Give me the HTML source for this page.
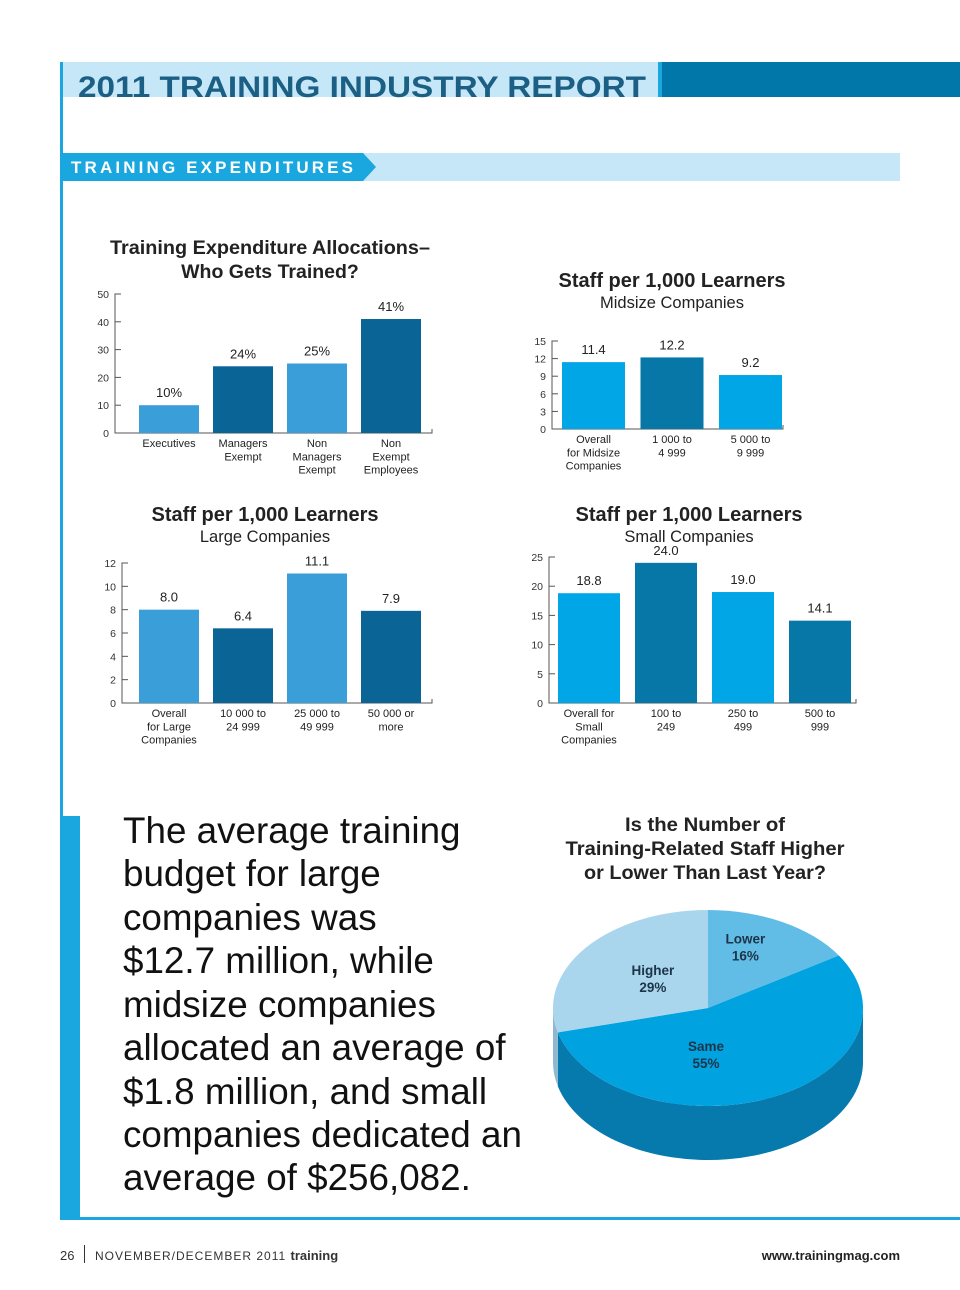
<!DOCTYPE html>
<html><head><meta charset="utf-8">
<style>
body{margin:0;background:#fff;}
#page{position:relative;width:960px;height:1290px;overflow:hidden;font-family:"Liberation Sans",sans-serif;}
svg text{font-family:"Liberation Sans",sans-serif;}
</style></head>
<body>
<div id="page">
<svg id="svg" width="960" height="1290" viewBox="0 0 960 1290" xmlns="http://www.w3.org/2000/svg">
  <rect x="60" y="62" width="3" height="1158" fill="#1aa7e0"/>
  <rect x="63" y="62" width="595" height="35" fill="#c6e7f7"/>
  <rect x="658" y="62" width="4" height="35" fill="#1aa7e0"/>
  <rect x="662" y="62" width="298" height="35" fill="#0077a8"/>
  <text x="78" y="97" font-size="30" font-weight="bold" fill="#1b5f84" textLength="568" lengthAdjust="spacingAndGlyphs">2011 TRAINING INDUSTRY REPORT</text>
  <rect x="363" y="153" width="537" height="28" fill="#c6e7f7"/>
  <polygon points="63,153 363,153 376,167 363,181 63,181" fill="#1aa7e0"/>
  <text x="71" y="173" font-size="17" font-weight="bold" fill="#fff" textLength="282" lengthAdjust="spacing">TRAINING EXPENDITURES</text>

  <text x="270" y="254" font-size="19.5" font-weight="bold" fill="#222" text-anchor="middle" textLength="320" lengthAdjust="spacingAndGlyphs">Training Expenditure Allocations–</text>
  <text x="270" y="278" font-size="19.5" font-weight="bold" fill="#222" text-anchor="middle">Who Gets Trained?</text>
  <text x="672" y="287" font-size="20" font-weight="bold" fill="#222" text-anchor="middle" textLength="227" lengthAdjust="spacingAndGlyphs">Staff per 1,000 Learners</text>
  <text x="672" y="308" font-size="16.5" fill="#222" text-anchor="middle">Midsize Companies</text>
  <text x="265" y="521" font-size="20" font-weight="bold" fill="#222" text-anchor="middle" textLength="227" lengthAdjust="spacingAndGlyphs">Staff per 1,000 Learners</text>
  <text x="265" y="542" font-size="16.5" fill="#222" text-anchor="middle">Large Companies</text>
  <text x="689" y="521" font-size="20" font-weight="bold" fill="#222" text-anchor="middle" textLength="227" lengthAdjust="spacingAndGlyphs">Staff per 1,000 Learners</text>
  <text x="689" y="542" font-size="16.5" fill="#222" text-anchor="middle">Small Companies</text>

  <g id="charts"></g>

  <rect x="60" y="816" width="20" height="403" fill="#1aa7e0"/>
  <rect x="60" y="1217" width="900" height="3" fill="#1aa7e0"/>
  <g font-size="36.8" fill="#111">
    <text x="123" y="843">The average training</text>
    <text x="123" y="886">budget for large</text>
    <text x="123" y="930">companies was</text>
    <text x="123" y="973">$12.7 million, while</text>
    <text x="123" y="1017">midsize companies</text>
    <text x="123" y="1060">allocated an average of</text>
    <text x="123" y="1104">$1.8 million, and small</text>
    <text x="123" y="1147">companies dedicated an</text>
    <text x="123" y="1190">average of $256,082.</text>
  </g>

  <g font-size="19.5" font-weight="bold" fill="#222" text-anchor="middle">
    <text x="705" y="831" textLength="160" lengthAdjust="spacingAndGlyphs">Is the Number of</text>
    <text x="705" y="855" textLength="279" lengthAdjust="spacingAndGlyphs">Training-Related Staff Higher</text>
    <text x="705" y="879" textLength="242" lengthAdjust="spacingAndGlyphs">or Lower Than Last Year?</text>
  </g>
  <g id="pie"></g>

  <text x="60" y="1260" font-size="13" fill="#333">26</text>
  <rect x="84" y="1245" width="1" height="18" fill="#333"/>
  <text x="95" y="1260" font-size="12" fill="#333" letter-spacing="1">NOVEMBER/DECEMBER 2011 <tspan font-weight="bold" font-size="13" letter-spacing="0">training</tspan></text>
  <text x="900" y="1260" font-size="13" font-weight="bold" fill="#222" text-anchor="end">www.trainingmag.com</text>
</svg>
</div>
<script>
const NS="http://www.w3.org/2000/svg";
// Chart 1 data
const c1Categories=[["Executives"],["Managers","Exempt"],["Non","Managers","Exempt"],["Non","Exempt","Employees"]];
const c1Values=[10,24,25,41];
const c1Labels=["10%","24%","25%","41%"];
const c1Ticks=[0,10,20,30,40,50];
// Chart 2 data
const c2Categories=[["Overall","for Midsize","Companies"],["1 000 to","4 999"],["5 000 to","9 999"]];
const c2Values=[11.4,12.2,9.2];
const c2Labels=["11.4","12.2","9.2"];
const c2Ticks=[0,3,6,9,12,15];
// Chart 3 data
const c3Categories=[["Overall","for Large","Companies"],["10 000 to","24 999"],["25 000 to","49 999"],["50 000 or","more"]];
const c3Values=[8.0,6.4,11.1,7.9];
const c3Labels=["8.0","6.4","11.1","7.9"];
const c3Ticks=[0,2,4,6,8,10,12];
// Chart 4 data
const c4Categories=[["Overall for","Small","Companies"],["100 to","249"],["250 to","499"],["500 to","999"]];
const c4Values=[18.8,24.0,19.0,14.1];
const c4Labels=["18.8","24.0","19.0","14.1"];
const c4Ticks=[0,5,10,15,20,25];
// Pie data
const pieCategories=["Lower","Same","Higher"];
const pieValues=[16,55,29];

function el(tag,attrs,parent){const e=document.createElementNS(NS,tag);for(const k in attrs)e.setAttribute(k,attrs[k]);parent.appendChild(e);return e;}
const root=document.getElementById('charts');

function barChart(id,cfg,cats,vals,labels,ticks){
  const g=el('g',{},root);
  
  
  const max=ticks[ticks.length-1];
  const y=v=>cfg.y0-(v/max)*(cfg.y0-cfg.yTop);
  const ax=el('path',{d:`M${cfg.ax+6},${cfg.yTop} H${cfg.ax} V${cfg.y0} H${cfg.axEnd} V${cfg.y0-4}`,stroke:'#555','stroke-width':1,fill:'none'},g);
  
  
  ticks.forEach(t=>{
    el('line',{x1:cfg.ax,x2:cfg.ax+6,y1:y(t),y2:y(t),stroke:'#555'},g);
    const tx=el('text',{x:cfg.ax-6,y:y(t)+4,'font-size':10.5,fill:'#333','text-anchor':'end'},g);
    tx.textContent=t;
    
    
  });
  vals.forEach((v,i)=>{
    const x=cfg.x0+i*cfg.step;
    const r=el('rect',{x:x,y:y(v),width:cfg.bw,height:cfg.y0-y(v),fill:cfg.colors[i%cfg.colors.length]},g);
    
    
    const lb=el('text',{x:x+cfg.bw/2,y:y(v)-8,'font-size':13,fill:'#222','text-anchor':'middle'},g);
    lb.textContent=labels[i];
    
    
    cats[i].forEach((line,j)=>{
      const c=el('text',{x:x+cfg.bw/2,y:cfg.y0+14+j*13.3,'font-size':11,fill:'#222','text-anchor':'middle'},g);
      c.textContent=line;
      
      
    });
  });
}
barChart('chart-allocations',{ax:115,y0:433,yTop:294,axEnd:432,x0:139,step:74,bw:60,colors:['#3a9fd8','#0a6496','#3a9fd8','#0a6496']},c1Categories,c1Values,c1Labels,c1Ticks);
barChart('chart-midsize',{ax:552,y0:429,yTop:341,axEnd:783,x0:562,step:78.5,bw:63,colors:['#00a6e6','#0777a8','#00a6e6']},c2Categories,c2Values,c2Labels,c2Ticks);
barChart('chart-large',{ax:122,y0:703,yTop:563,axEnd:432,x0:139,step:74,bw:60,colors:['#3a9fd8','#0a6496','#3a9fd8','#0a6496']},c3Categories,c3Values,c3Labels,c3Ticks);
barChart('chart-small',{ax:549,y0:703,yTop:557,axEnd:856,x0:558,step:77,bw:62,colors:['#00a6e6','#0777a8','#00a6e6','#0777a8']},c4Categories,c4Values,c4Labels,c4Ticks);

// Pie
(function(){
  const pg=document.getElementById('pie');
  const cx=708,cy=1008,rx=155,ry=98,d=54;
  const topCol=['#62bde6','#00a2e0','#a9d6ed'];
  const sideCol=['#3a94c4','#0679ad','#8fb8cf'];
  const pt=(a,dy)=>[cx+rx*Math.sin(a),cy-ry*Math.cos(a)+(dy||0)];
  const total=pieValues.reduce((a,b)=>a+b,0);
  let acc=0;
  const angles=pieValues.map(v=>{const s=acc/total*2*Math.PI;acc+=v;return [s,acc/total*2*Math.PI];});
  angles.forEach(([s,e],i)=>{
    const a0=Math.max(s,Math.PI/2),a1=Math.min(e,3*Math.PI/2);
    if(a1<=a0)return;
    const p0=pt(a0),p1=pt(a1),q0=pt(a0,d),q1=pt(a1,d);
    const large=(a1-a0)>Math.PI?1:0;
    const p=el('path',{d:`M${p0} L${q0} A${rx},${ry} 0 ${large} 1 ${q1} L${p1} A${rx},${ry} 0 ${large} 0 ${p0}Z`,fill:sideCol[i]},pg);
    
    
  });
  angles.forEach(([s,e],i)=>{
    const p0=pt(s),p1=pt(e);
    const large=(e-s)>Math.PI?1:0;
    const p=el('path',{d:`M${cx},${cy} L${p0} A${rx},${ry} 0 ${large} 1 ${p1}Z`,fill:topCol[i]},pg);
    
    
  });
  const offs=[[0.5,0.75],[0.02,0.45],[0.45,0.55]];
  angles.forEach(([s,e],i)=>{
    const m=(s+e)/2;
    let lx=cx+rx*offs[i][0]*Math.sin(m), ly=cy-ry*offs[i][1]*Math.cos(m);
    if(i===1){lx=706;ly=1051;}
    const t=el('text',{x:lx,y:ly,'font-size':13.5,'font-weight':'bold',fill:'#1d3448','text-anchor':'middle'},pg);
    t.textContent=pieCategories[i];
    
    
    const t2=el('text',{x:lx,y:ly+17,'font-size':13.5,'font-weight':'bold',fill:'#1d3448','text-anchor':'middle'},pg);
    t2.textContent=pieValues[i]+'%';
    
    
  });
})();
</script>
</body></html>
